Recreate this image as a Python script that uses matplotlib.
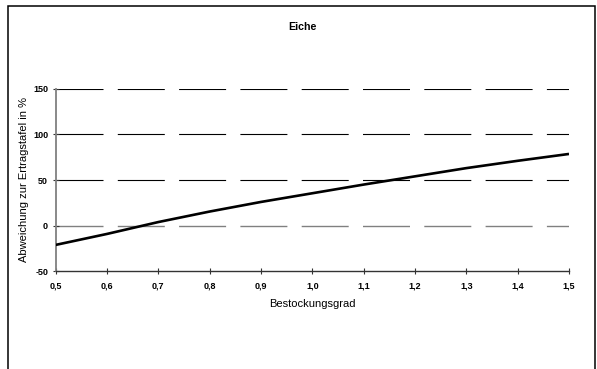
import matplotlib
matplotlib.use("Agg")
import matplotlib.pyplot as plt
from matplotlib.patches import Rectangle
from matplotlib.ticker import FixedLocator, FuncFormatter

plt.rcParams['font.family'] = ['Liberation Sans', 'DejaVu Sans']
plt.rcParams['lines.scale_dashes'] = False

# Bestockungsgrad vs. Abweichung zur Ertragstafel (%)
bestockungsgrad = [0.5, 0.6, 0.7, 0.8, 0.9, 1.0, 1.1, 1.2, 1.3, 1.4, 1.5]
abweichung = [-21, -9, 4, 15.5, 26, 35.5, 45, 54, 63, 71, 78.5]
y_ticks = [-50, 0, 50, 100, 150]
x_ticks = [0.5, 0.6, 0.7, 0.8, 0.9, 1.0, 1.1, 1.2, 1.3, 1.4, 1.5]

W, H = 597, 369
fig = plt.figure(figsize=(W / 100, H / 100), dpi=100)
fig.patch.set_facecolor('white')

# outer chart frame (bottom edge lies outside the canvas)
fig.patches.append(Rectangle((8 / W, -0.05), (595 - 8) / W, 1.05 - 6 / H,
                             transform=fig.transFigure, fill=False,
                             edgecolor='black', linewidth=1.1))

left, right, top, bottom = 55.7, 569, 88.6, 271.4
ax = fig.add_axes([left / W, 1 - bottom / H, (right - left) / W, (bottom - top) / H])
ax.set_xlim(0.5, 1.5)
ax.set_ylim(-50, 150)

# dashed grid lines
dash = (0, (47 * 0.72, 14.3 * 0.72))
for v in [50, 100, 150]:
    ax.axhline(v, color='black', linewidth=0.8, linestyle=dash, zorder=1)
ax.axhline(0, color='#808080', linewidth=1.0, linestyle=dash, zorder=1)

ax.plot(bestockungsgrad, abweichung, color='black', linewidth=1.9,
        solid_capstyle='butt', zorder=3)

for s in ['top', 'right']:
    ax.spines[s].set_visible(False)
ax.spines['left'].set_color('#808080')
ax.spines['left'].set_linewidth(1.3)
ax.spines['bottom'].set_color('#333333')
ax.spines['bottom'].set_linewidth(1.0)

ax.xaxis.set_major_locator(FixedLocator(x_ticks))
ax.yaxis.set_major_locator(FixedLocator(y_ticks))
ax.xaxis.set_major_formatter(FuncFormatter(lambda v, p: f"{v:.1f}".replace('.', ',')))
ax.yaxis.set_major_formatter(FuncFormatter(lambda v, p: f"{v:.0f}"))
ax.tick_params(axis='both', direction='inout', length=5, width=0.8, color='#333333',
               labelsize=6.5)
ax.tick_params(axis='x', pad=5)
ax.tick_params(axis='y', pad=3)
for lab in ax.get_xticklabels() + ax.get_yticklabels():
    lab.set_fontweight('bold')

ax.set_xlabel('Bestockungsgrad', fontsize=8, labelpad=6)
ax.set_ylabel('Abweichung zur Ertragstafel in %', fontsize=8, labelpad=2.5)

fig.text(302 / W, 1 - 27 / H, 'Eiche', ha='center', va='center',
         fontsize=7.7, fontweight='bold')

fig.savefig('out.png', dpi=100)
